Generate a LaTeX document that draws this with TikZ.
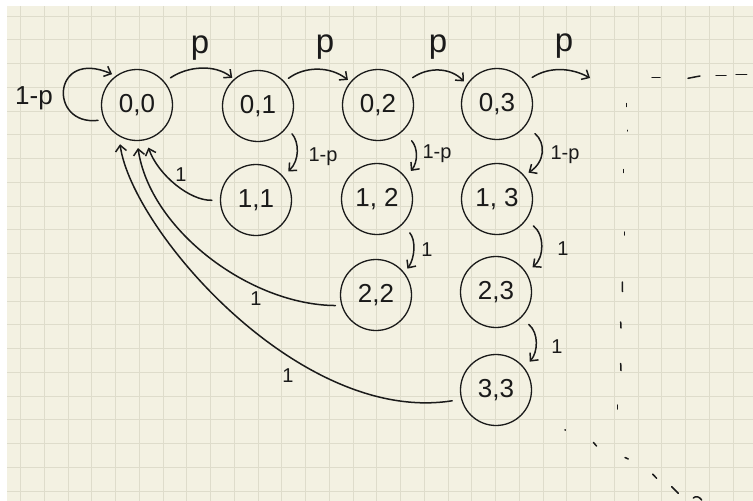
\documentclass[tikz,border=0pt]{standalone}
\usepackage{fontspec}
\setmainfont{Liberation Sans}
\usetikzlibrary{arrows.meta}
\definecolor{paper}{HTML}{F3F1E2}
\definecolor{gridc}{HTML}{DEDCCB}
\definecolor{ink}{HTML}{1A1A1A}
\begin{document}
\begin{tikzpicture}[x=1pt,y=-1pt,
  state/.style={circle,draw=ink,line width=1.3pt,minimum size=71pt,inner sep=0pt,text=ink,font=\fontsize{26}{26}\selectfont},
  arr/.style={draw=ink,line width=1.5pt,line cap=round,-{Straight Barb[length=6pt,width=11pt]}},
  lab/.style={text=ink,inner sep=0pt},
  plab/.style={lab,font=\fontsize{33}{33}\selectfont},
  olab/.style={lab,font=\fontsize{20}{20}\selectfont},
  tick/.style={draw=ink,line width=1.5pt,line cap=round}]
\useasboundingbox (0,0) rectangle (753,501);
\fill[white] (0,0) rectangle (753,501);
\fill[paper] (7,6) rectangle (753,501);
\begin{scope}
  \clip (7,6) rectangle (753,501);
  \foreach \i in {0,...,30} \draw[gridc,line width=1pt] ({20.7+23.75*\i},6) -- ++(0,495);
  \foreach \j in {0,...,20} \draw[gridc,line width=1pt] (7,{16+23.75*\j}) -- ++(746,0);
\end{scope}

% states
\node[state] (n00) at (137,105) {0,0};
\node[state] (n01) at (258,106) {0,1};
\node[state] (n02) at (378,105) {0,2};
\node[state] (n03) at (497,104) {0,3};
\node[state] (n11) at (256,200) {1,1};
\node[state] (n12) at (377,199) {1, 2};
\node[state] (n13) at (497,199) {1, 3};
\node[state] (n22) at (376,295) {2,2};
\node[state] (n23) at (496,292) {2,3};
\node[state] (n33) at (496,390) {3,3};
\coordinate (c04) at (590,78);

% self loop
\draw[arr,shorten <=6pt,shorten >=4pt] (n00.204) .. controls (48,126) and (52,48) .. (n00.126);
\node[lab,font=\fontsize{26}{26}\selectfont] (l00) at (34,98) {1-p};

% p edges
\draw[arr,shorten <=7pt,shorten >=2pt] (n00.40) .. controls (188,66) and (215,64) .. (n01.132);
\draw[arr,shorten <=5pt,shorten >=3pt] (n01.43) .. controls (305,66) and (330,66) .. (n02.140);
\draw[arr,shorten <=8pt,shorten >=4pt] (n02.39) .. controls (428,67) and (450,67) .. (n03.147);
\draw[arr,shorten <=8pt] (n03.38) .. controls (550,66) and (572,68) .. (c04);
\node[plab] (p1) at (200,48) {p};
\node[plab] (p2) at (325,47) {p};
\node[plab] (p3) at (438,47) {p};
\node[plab] (p4) at (564,46) {p};

% 1-p edges
\draw[arr,shorten <=8pt,shorten >=7pt] (n01.-37) .. controls (299,142) and (300,160) .. (n11.41);
\draw[arr,shorten <=13pt,shorten >=8pt] (n02.-46) .. controls (418,148) and (418,162) .. (n12.37);
\draw[arr,shorten <=12pt,shorten >=5pt] (n03.-37) .. controls (546,143) and (545,162) .. (n13.41);
\node[olab] (q1) at (323,157) {1-p};
\node[olab] (q2) at (437,154) {1-p};
\node[olab] (q3) at (565,155) {1-p};

% 1 edges downwards
\draw[arr,shorten <=11pt,shorten >=5pt] (n12.-45) .. controls (416,240) and (415,258) .. (n22.38);
\draw[arr,shorten <=9pt,shorten >=8pt] (n13.-36) .. controls (545,235) and (544,258) .. (n23.33);
\draw[arr,shorten <=10pt,shorten >=8pt] (n23.-46) .. controls (539,333) and (538,352) .. (n33.38);
\node[olab] (r1) at (427,250) {1};
\node[olab] (r2) at (563,249) {1};
\node[olab] (r3) at (557,347) {1};

% returns to (0,0)
\draw[arr,shorten <=8pt,shorten >=8pt] (n11.180) .. controls (190,201) and (158,175) .. (n00.-76);
\draw[arr,shorten <=6pt,shorten >=7pt] (n22.197) .. controls (250,305) and (150,230) .. (n00.-90);
\draw[arr,shorten <=9pt,shorten >=8pt] (n33.195) .. controls (300,425) and (132,230) .. (n00.-120);
\node[olab] (s1) at (181,175) {1};
\node[olab] (s2) at (256,299) {1};
\node[olab] (s3) at (288,376) {1};

% dashes to the right
\draw[tick] (652,77.3) -- (660,77.3);
\draw[tick] (688,78.3) -- (700,76);
\draw[tick] (716,75.7) -- (726,75.7);
\draw[tick] (736,74.7) -- (746.7,74.7);

% vertical dots
\draw[tick] (626.7,103.5) -- (626.7,106.5);
\draw[tick] (627.7,130.3) -- (627.7,130.9);
\draw[tick] (623.3,169.5) -- (623.3,172.5);
\draw[tick] (624.3,232) -- (624.3,235);
\draw[tick] (622.3,282) -- (622.5,291.5);
\draw[tick] (620.7,322) -- (621,328);
\draw[tick] (620.7,363.5) -- (621,370.5);
\draw[tick] (617.7,405) -- (617.7,409);

% diagonal dots
\draw[tick] (565,429.7) -- (565.3,430.2);
\draw[tick] (593.5,442.5) -- (596.5,446);
\draw[tick] (625,457.5) -- (628.3,459);
\draw[tick] (652.7,474.2) -- (656.7,478.3);
\draw[tick] (671.7,486.7) -- (678.3,493.3);
\draw[tick] (693.3,498) .. controls (696,495.5) and (699,496.5) .. (701.7,500);
\end{tikzpicture}
\end{document}
